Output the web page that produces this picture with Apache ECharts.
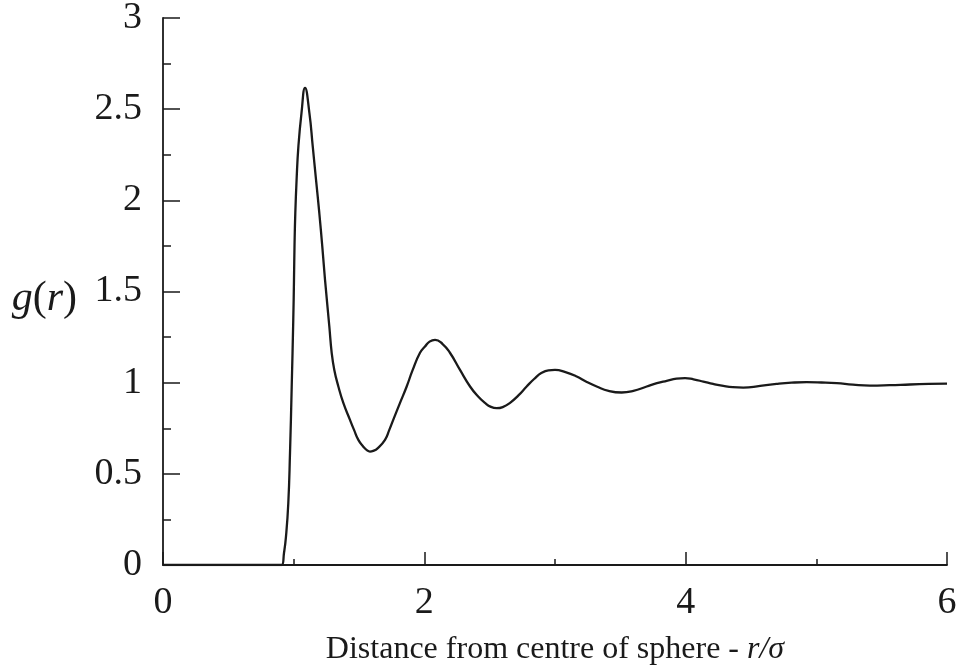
<!DOCTYPE html>
<html>
<head>
<meta charset="utf-8">
<script src="https://cdn.jsdelivr.net/npm/echarts@6/dist/echarts.min.js"></script>
<style>
  html, body { margin: 0; padding: 0; background: #fff; }
  #chart { width: 958px; height: 668px; }
</style>
</head>
<body>
<div id="chart"></div>
<script>
// Radial distribution function g(r) of a dense hard-sphere liquid
var rValues = [0, 0.5, 0.85, 0.908, 0.926, 0.941, 0.959, 0.972, 0.985, 0.997, 1.0025, 1.0064, 1.0125, 1.0224, 1.0362, 1.060, 1.087,
  1.120, 1.146, 1.171, 1.196, 1.219, 1.240, 1.273, 1.291, 1.311, 1.342, 1.380, 1.431, 1.462, 1.495, 1.533, 1.560, 1.584,
  1.610, 1.640, 1.699, 1.732, 1.762, 1.814, 1.865, 1.911, 1.967, 2.005, 2.040, 2.082, 2.140, 2.196, 2.273, 2.350, 2.410,
  2.464, 2.510, 2.554, 2.600, 2.656, 2.720, 2.783, 2.840, 2.898, 2.950, 3.000, 3.080, 3.166, 3.240, 3.319, 3.410,
  3.510, 3.600, 3.702, 3.780, 3.855, 3.930, 3.995, 4.060, 4.135, 4.210, 4.288, 4.360, 4.441, 4.570, 4.696, 4.810,
  4.926, 5.040, 5.156, 5.280, 5.410, 5.560, 5.717, 5.860, 6.0];
var gValues = [0, 0, 0, 0, 0.066, 0.154, 0.340, 0.615, 0.979, 1.345, 1.564, 1.747, 1.930, 2.113, 2.296, 2.480, 2.617,
  2.481, 2.296, 2.113, 1.932, 1.747, 1.564, 1.308, 1.164, 1.070, 0.979, 0.889, 0.796, 0.741, 0.686, 0.649, 0.630, 0.622,
  0.626, 0.638, 0.686, 0.741, 0.796, 0.889, 0.979, 1.070, 1.164, 1.198, 1.225, 1.235, 1.212, 1.164, 1.070, 0.979, 0.925,
  0.889, 0.867, 0.860, 0.866, 0.889, 0.930, 0.979, 1.020, 1.054, 1.068, 1.070, 1.058, 1.034, 1.005, 0.979, 0.955,
  0.946, 0.955, 0.979, 0.997, 1.010, 1.022, 1.025, 1.018, 1.006, 0.993, 0.982, 0.975, 0.973, 0.982, 0.993, 1.000,
  1.003, 1.001, 0.997, 0.989, 0.984, 0.986, 0.990, 0.993, 0.995];
var xTicks = [0, 2, 4, 6];
var yTicks = [0, 0.5, 1, 1.5, 2, 2.5, 3];

var FONT = '"Liberation Serif", "DejaVu Serif", serif';
var INK = '#1a1a1a';

var points = rValues.map(function (r, i) { return [r, gValues[i]]; });

var chart = echarts.init(document.getElementById('chart'), null, { renderer: 'canvas' });
chart.setOption({
  animation: false,
  backgroundColor: '#fff',
  grid: { left: 163, right: 11, top: 18, bottom: 103, containLabel: false, outerBoundsMode: 'none' },
  xAxis: {
    type: 'value',
    min: xTicks[0],
    max: xTicks[xTicks.length - 1],
    interval: 2,
    axisLine: { onZero: false, lineStyle: { color: INK, width: 1.8 } },
    axisTick: { inside: true, length: 13, lineStyle: { color: INK, width: 1.5 } },
    minorTick: { show: true, splitNumber: 2, length: 6, lineStyle: { color: INK, width: 1.5 } },
    splitLine: { show: false },
    axisLabel: { fontFamily: FONT, fontSize: 38, color: INK, margin: 19 },
    name: '{n|Distance from centre of sphere - }{i|r/σ}',
    nameLocation: 'middle',
    nameGap: 69,
    nameTextStyle: {
      rich: {
        n: { fontFamily: FONT, fontSize: 32, color: INK },
        i: { fontFamily: FONT, fontSize: 32, color: INK, fontStyle: 'italic' }
      }
    }
  },
  yAxis: {
    type: 'value',
    min: yTicks[0],
    max: yTicks[yTicks.length - 1],
    interval: 0.5,
    axisLine: { show: true, lineStyle: { color: INK, width: 1.8 } },
    axisTick: { show: true, inside: true, length: 17, lineStyle: { color: INK, width: 1.5 } },
    minorTick: { show: true, splitNumber: 2, length: 8, lineStyle: { color: INK, width: 1.5 } },
    splitLine: { show: false },
    axisLabel: { fontFamily: FONT, fontSize: 38, color: INK, margin: 21 },
    name: '{i|g}{n|(}{i|r}{n|)}',
    nameLocation: 'middle',
    nameRotate: 0,
    nameGap: 86,
    nameTextStyle: {
      padding: [14, 0, 0, 0],
      rich: {
        n: { fontFamily: FONT, fontSize: 42, color: INK },
        i: { fontFamily: FONT, fontSize: 42, color: INK, fontStyle: 'italic' }
      }
    }
  },
  series: [{
    type: 'line',
    data: points,
    showSymbol: false,
    smooth: 0.5,
    lineStyle: { color: INK, width: 2.3 }
  }]
});
</script>
</body>
</html>
